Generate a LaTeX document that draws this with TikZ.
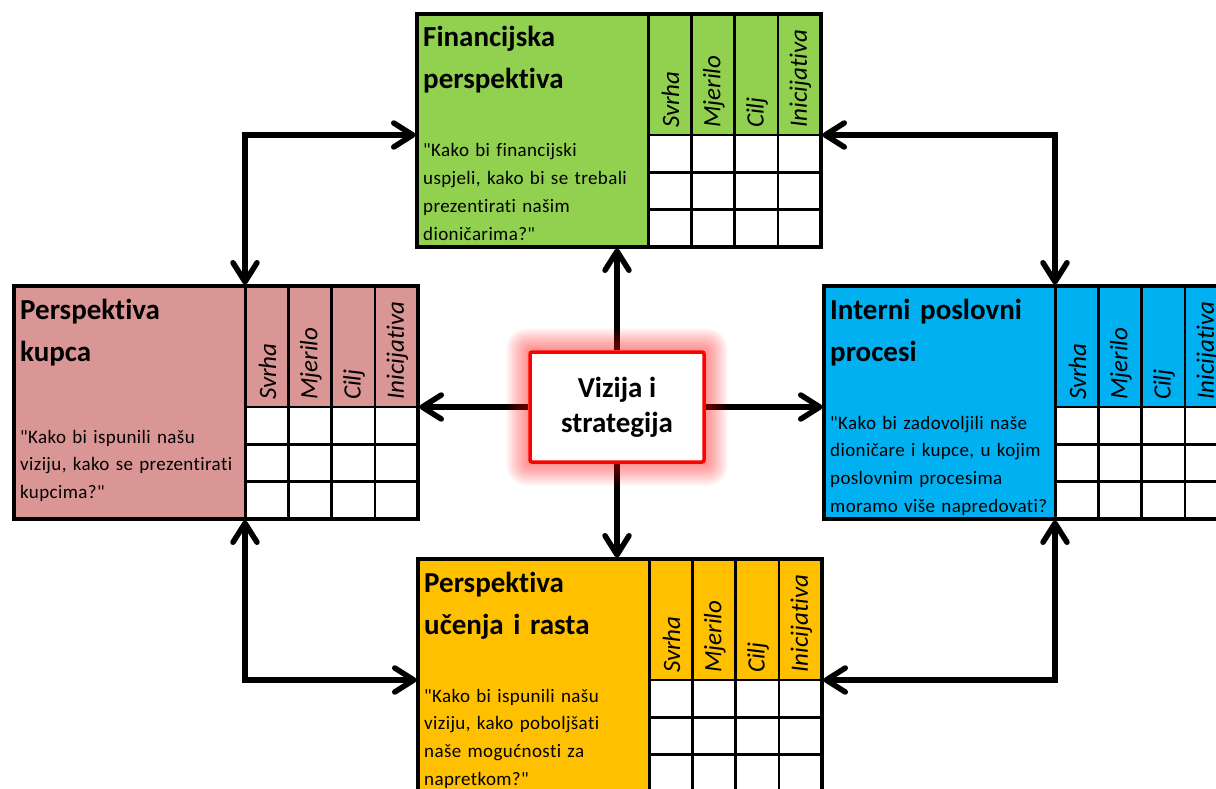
\documentclass[tikz,border=0pt]{standalone}
\usepackage{fontspec}
\setmainfont{Carlito}[Ligatures={TeXOff,NoCommon}]
\newfontfamily\pitanjefont[LetterSpace=2,Ligatures={TeXOff,NoCommon}]{Carlito}
\usepackage{tikz}
\usetikzlibrary{arrows.meta,positioning}
\definecolor{zelena}{HTML}{92D050}
\definecolor{ruzicasta}{HTML}{DA9694}
\definecolor{plava}{HTML}{00B0F0}
\definecolor{narancasta}{HTML}{FFC000}
\pgfdeclarelayer{pozadina}
\pgfdeclarelayer{sjaj}
\pgfsetlayers{pozadina,sjaj,main}

% #1 ime, #2 x, #3 y, #4 boja, #5 naslov, #6 pitanje, #7 pomak pitanja
\newcommand{\kartica}[7]{%
  \node[karta, fill=#4] (#1) at (#2,#3) {};
  \fill[white] ([shift={(231,121)}]#1.north west) rectangle (#1.south east);
  \foreach \k in {1,2,3}
    \draw[mreza] ([shift={(231+43.25*\k,0)}]#1.north west) -- ++(0,233);
  \foreach \r in {0,1,2}
    \draw[mreza] ([shift={(231,121+37.33*\r)}]#1.north west) -- ++(173,0);
  \draw[pregrada] ([shift={(231,0)}]#1.north west) -- ++(0,233);
  \draw[okvir] (#1.north west) rectangle (#1.south east);
  \foreach \h [count=\k from 0] in {Svrha,Mjerilo,Cilj,Inicijativa}
    \node[zaglavlje] at ([shift={(253.6+43.25*\k,114)}]#1.north west) {\h};
  \node[naslov] at ([shift={(6,33)}]#1.north west) {#5};
  \node[pitanje] at ([shift={(6,#7)}]#1.north west) {#6};
}

\begin{document}
\begin{tikzpicture}[x=1pt,y=-1pt]
\tikzstyle{karta}=[rectangle, anchor=north west, minimum width=404, minimum height=233, inner sep=0, outer sep=0]
\tikzstyle{mreza}=[line width=2.5]
\tikzstyle{pregrada}=[line width=3]
\tikzstyle{okvir}=[line width=4]
\tikzstyle{zaglavlje}=[rotate=90, anchor=west, inner sep=0, font=\itshape\fontsize{25}{25}\selectfont]
\tikzstyle{naslov}=[anchor=base west, inner sep=0, text width=300, align=left, font=\bfseries\fontsize{29}{42}\selectfont]
\tikzstyle{pitanje}=[anchor=base west, inner sep=0, text width=300, align=left, font=\pitanjefont\fontsize{19}{27.8}\selectfont]
\tikzstyle{vizija}=[rectangle, draw=red, line width=3.5, fill=white, rounded corners=2, minimum width=174, minimum height=110, align=center, font=\bfseries\fontsize{29}{35}\selectfont]
\tikzstyle{strelica}=[line width=5.5, shorten >=1.5pt, -{Straight Barb[length=19pt,width=24pt,round]}]
\tikzstyle{dvostrelica}=[line width=5.5, shorten >=1.5pt, shorten <=1.5pt, {Straight Barb[length=19pt,width=24pt,round]}-{Straight Barb[length=19pt,width=24pt,round]}]

\useasboundingbox (0,0) rectangle (1216,789);

\kartica{fin}{417}{14}{zelena}{Financijska\\perspektiva}{"Kako bi financijski\\uspjeli, kako bi se trebali\\prezentirati našim\\dioničarima?"}{143}
\kartica{kup}{14}{286}{ruzicasta}{Perspektiva\\kupca}{"Kako bi ispunili našu\\viziju, kako se prezentirati\\kupcima?"}{157}
\kartica{pro}{824}{286}{plava}{Interni poslovni\\procesi}{"Kako bi zadovoljili naše\\dioničare i kupce, u kojim\\poslovnim procesima\\moramo više napredovati?}{143}
\kartica{uci}{418}{559}{narancasta}{Perspektiva\\učenja i rasta}{"Kako bi ispunili našu\\viziju, kako poboljšati\\naše mogućnosti za\\napretkom?"}{143}

\node[vizija] (viz) at (617,407) {Vizija i\\strategija};

\begin{pgfonlayer}{sjaj}
\foreach \g in {1,...,12}
  \fill[red, opacity=0.045, rounded corners=2+1.5*\g] ([shift={(-1.8*\g,-1.8*\g)}]viz.north west) rectangle ([shift={(1.8*\g,1.8*\g)}]viz.south east);
\end{pgfonlayer}

\begin{pgfonlayer}{pozadina}
\draw[strelica] (viz.north) -- (viz.north |- fin.south);
\draw[strelica] (viz.south) -- (viz.south |- uci.north);
\draw[strelica] (viz.west) -- (viz.west -| kup.east);
\draw[strelica] (viz.east) -- (viz.east -| pro.west);
\draw[dvostrelica] ([shift={(231,0)}]kup.north west) |- ([shift={(0,121)}]fin.north west);
\draw[dvostrelica] ([shift={(0,121)}]fin.north east) -| ([shift={(231,0)}]pro.north west);
\draw[dvostrelica] ([shift={(231,0)}]kup.south west) |- ([shift={(0,121)}]uci.north west);
\draw[dvostrelica] ([shift={(0,121)}]uci.north east) -| ([shift={(231,0)}]pro.south west);
\end{pgfonlayer}

\end{tikzpicture}
\end{document}
